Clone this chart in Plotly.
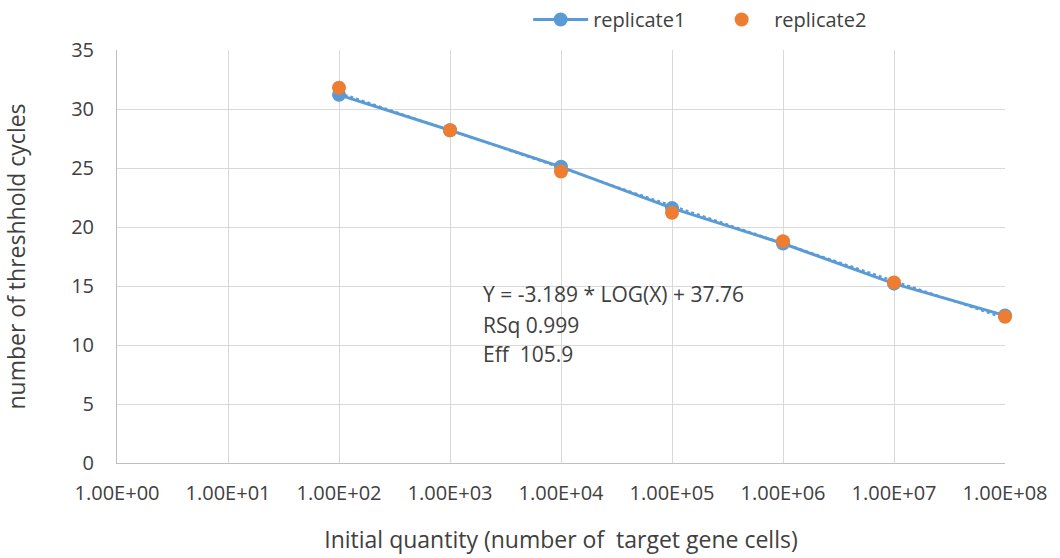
import math
import plotly.graph_objects as go

# Initial quantity (target gene copies) and threshold cycle values
quantity = [1e2, 1e3, 1e4, 1e5, 1e6, 1e7, 1e8]
replicate1 = [31.2, 28.2, 25.1, 21.6, 18.6, 15.2, 12.5]
replicate2 = [31.8, 28.2, 24.7, 21.2, 18.8, 15.3, 12.4]

# Standard curve fit reported on the chart
slope = -3.189
intercept = 37.76
fit_lines = ["Y = -3.189 * LOG(X) + 37.76", "RSq 0.999", "Eff  105.9"]

x_tickvals = [1e0, 1e1, 1e2, 1e3, 1e4, 1e5, 1e6, 1e7, 1e8]
x_ticktext = ["1.00E+00", "1.00E+01", "1.00E+02", "1.00E+03", "1.00E+04",
              "1.00E+05", "1.00E+06", "1.00E+07", "1.00E+08"]
y_tickvals = [0, 5, 10, 15, 20, 25, 30, 35]

FONT = "Open Sans, sans-serif"
BLUE = "#5b9bd5"
ORANGE = "#ed7d31"
TEXT = "#404040"

trend_y = [slope * math.log10(q) + intercept for q in quantity]

fig = go.Figure()

# dotted trendline from the fitted equation
fig.add_trace(go.Scatter(
    x=quantity, y=trend_y, mode="lines",
    line=dict(color=BLUE, width=2, dash="dot"),
    showlegend=False, hoverinfo="skip", cliponaxis=False,
))

fig.add_trace(go.Scatter(
    x=quantity, y=replicate1, mode="lines+markers", name="replicate1",
    line=dict(color=BLUE, width=3),
    marker=dict(color=BLUE, size=14),
    cliponaxis=False,
))

fig.add_trace(go.Scatter(
    x=quantity, y=replicate2, mode="markers", name="replicate2",
    marker=dict(color=ORANGE, size=14),
    cliponaxis=False,
))

ann_y = [14.3, 11.7, 9.2]
for txt, yy in zip(fit_lines, ann_y):
    fig.add_annotation(
        x=math.log10(1.9e3), y=yy, xref="x", yref="y",
        text=txt, showarrow=False, xanchor="left", yanchor="middle",
        font=dict(family=FONT, size=21, color=TEXT),
    )

fig.update_layout(
    width=1060, height=558,
    margin=dict(l=117, r=55, t=50, b=95, autoexpand=False),
    paper_bgcolor="white", plot_bgcolor="white",
    font=dict(family=FONT, size=20, color=TEXT),
    legend=dict(
        orientation="h", x=0.463, xanchor="left", y=1.121, yanchor="top",
        font=dict(family=FONT, size=20, color=TEXT),
        itemwidth=55, tracegroupgap=0, entrywidth=111,
    ),
)

fig.update_xaxes(
    type="log", range=[0, 8],
    tickvals=x_tickvals, ticktext=x_ticktext,
    showgrid=True, gridcolor="#d9d9d9", gridwidth=1,
    showline=True, linecolor="#bfbfbf", linewidth=1,
    ticks="", ticklabelstandoff=12,
    tickfont=dict(family=FONT, size=20, color=TEXT),
    title=dict(text="Initial quantity (number of  target gene cells)",
               font=dict(family=FONT, size=23, color=TEXT), standoff=26),
    zeroline=False,
)

fig.update_yaxes(
    range=[0, 35], tickvals=y_tickvals,
    showgrid=True, gridcolor="#d9d9d9", gridwidth=1,
    showline=True, linecolor="#bfbfbf", linewidth=1,
    ticks="", ticklabelstandoff=18,
    tickfont=dict(family=FONT, size=20, color=TEXT),
    title=dict(text="number of threshhold cycles",
               font=dict(family=FONT, size=23, color=TEXT), standoff=40),
    zeroline=False,
)

fig.write_html("out.html")
